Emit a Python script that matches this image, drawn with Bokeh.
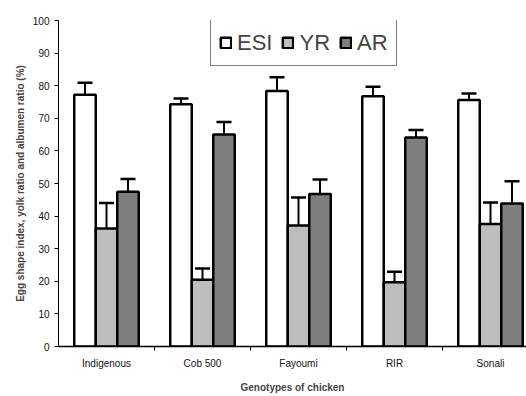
from bokeh.plotting import figure
from bokeh.models import (ColumnDataSource, Range1d, FixedTicker, Whisker, TeeHead)
from bokeh.embed import file_html
from bokeh.resources import INLINE

genotypes = ["Indigenous", "Cob 500", "Fayoumi", "RIR", "Sonali"]
esi = [77.2, 74.3, 78.4, 76.8, 75.6]
esi_err = [3.7, 1.8, 4.2, 2.9, 2.0]
yr = [36.2, 20.5, 37.1, 19.7, 37.6]
yr_err = [7.8, 3.4, 8.6, 3.2, 6.6]
ar = [47.5, 65.0, 46.8, 64.1, 43.9]
ar_err = [3.9, 3.9, 4.4, 2.3, 6.8]
y_ticks = [0, 10, 20, 30, 40, 50, 60, 70, 80, 90, 100]

FONT = "Liberation Sans"
BAR_W = 0.224

p = figure(width=526, height=396, output_backend="svg", toolbar_location=None,
           x_range=Range1d(0, 4.875), y_range=Range1d(0, 100),
           min_border_left=58, min_border_right=0, min_border_top=20, min_border_bottom=50)
p.outline_line_color = None
p.xgrid.visible = False
p.ygrid.visible = False
p.background_fill_color = "white"

centers = [i + 0.5 for i in range(len(genotypes))]
series = [("ESI", esi, esi_err, "white", -BAR_W),
          ("YR", yr, yr_err, "#bdbdbd", 0.0),
          ("AR", ar, ar_err, "#7e7e7e", BAR_W)]

for name, vals, errs, color, off in series:
    xs = [c + off for c in centers]
    src = ColumnDataSource(dict(x=xs, top=vals,
                                upper=[v + e for v, e in zip(vals, errs)]))
    w = Whisker(base="x", lower="top", upper="upper", source=src, dimension="height",
                line_color="black", line_width=2,
                upper_head=TeeHead(size=15, line_width=2.5, line_color="black"),
                lower_head=None, level="glyph")
    p.add_layout(w)
    p.vbar(x="x", top="top", bottom=0, width=BAR_W, source=src, fill_color=color,
           line_color="black", line_width=2.5, legend_label=name)

# y axis
yax = p.yaxis[0]
yax.ticker = FixedTicker(ticks=y_ticks)
yax.minor_tick_line_color = None
yax.major_tick_out = 4
yax.major_tick_in = 0
yax.axis_line_color = "black"
yax.major_tick_line_color = "black"
yax.major_label_standoff = 5
yax.major_label_text_font = FONT
yax.major_label_text_font_size = "10px"
yax.major_label_text_color = "#111111"
yax.axis_label = "Egg shape index, yolk ratio and albumen ratio (%)"
yax.axis_label_text_font = FONT
yax.axis_label_text_font_style = "bold"
yax.axis_label_text_font_size = "10px"
yax.axis_label_standoff = 4

# x axis
xax = p.xaxis[0]
xax.ticker = FixedTicker(ticks=centers, minor_ticks=[1, 2, 3, 4])
xax.major_label_overrides = {c: g for c, g in zip(centers, genotypes)}
xax.major_tick_out = 0
xax.major_tick_in = 0
xax.minor_tick_out = 4
xax.minor_tick_in = 0
xax.minor_tick_line_color = "black"
xax.axis_line_color = "black"
xax.axis_line_width = 1.5
xax.major_label_standoff = 7
xax.major_label_text_font = FONT
xax.major_label_text_font_size = "10px"
xax.major_label_text_color = "#111111"
xax.axis_label = "Genotypes of chicken"
xax.axis_label_text_font = FONT
xax.axis_label_text_font_style = "bold"
xax.axis_label_text_font_size = "10px"
xax.axis_label_standoff = 10

lg = p.legend[0]
lg.orientation = "horizontal"
lg.location = (152, 280)
lg.label_text_font = FONT
lg.label_text_font_size = "22px"
lg.label_height = 29
lg.glyph_width = 13
lg.glyph_height = 13
lg.label_standoff = 5
lg.spacing = 9
lg.padding = 8
lg.margin = 0
lg.border_line_color = "black"
lg.border_line_width = 1
lg.background_fill_alpha = 1.0

open("out.html", "w").write(file_html(p, INLINE))
